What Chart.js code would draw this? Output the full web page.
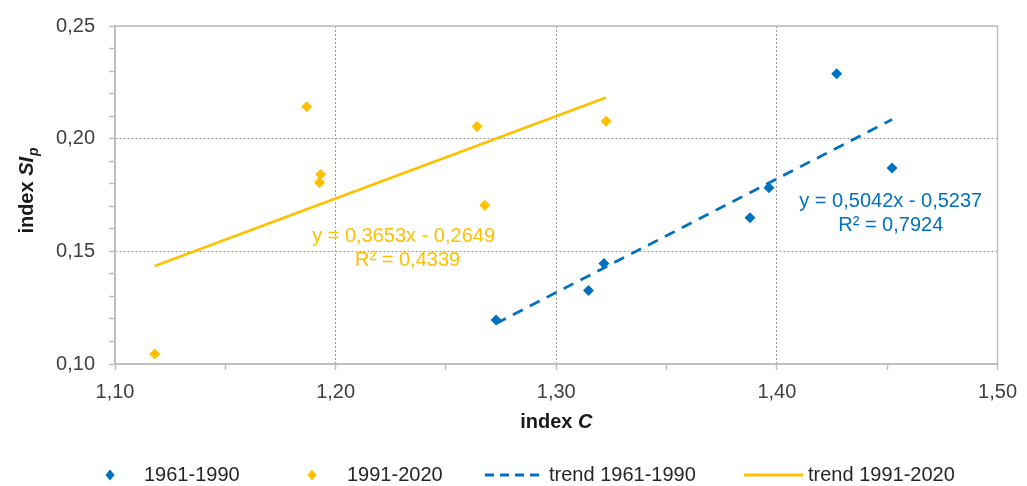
<!DOCTYPE html>
<html>
<head>
<meta charset="utf-8">
<script src="https://cdn.jsdelivr.net/npm/chart.js@4"></script>
<style>
  html, body { margin: 0; padding: 0; background: #fff; }
  #wrap { width: 1027px; height: 486px; }
</style>
</head>
<body>
<div id="wrap"><canvas id="myChart" width="1027" height="486"></canvas></div>
<script>
// values
const oldX = [1.2727, 1.3146, 1.3216, 1.3878, 1.3964, 1.4271, 1.4522];
const oldY = [0.1195, 0.1326, 0.1446, 0.1649, 0.1782, 0.2288, 0.1870];
const newX = [1.1180, 1.1869, 1.1927, 1.1932, 1.2641, 1.2676, 1.3226];
const newY = [0.1044, 0.2142, 0.1805, 0.1841, 0.2054, 0.1705, 0.2077];

// trend equations as printed on the chart
const oldTrend = [0.5042, -0.5237, 0.7924];
const newTrend = [0.3653, -0.2649, 0.4339];

const seriesNames = ['1961-1990', '1991-2020', 'trend 1961-1990', 'trend 1991-2020'];

const BLUE = '#0070C0';
const YELLOW = '#FFC000';
const FONT = '"Liberation Sans", Arial, sans-serif';
const SIZE = 20;

function pts(xs, ys) {
    return xs.map((x, i) => ({x: x, y: ys[i]}));
}
function trendPts(xs, t) {
    const lo = Math.min(...xs), hi = Math.max(...xs);
    return [{x: lo, y: t[0] * lo + t[1]}, {x: hi, y: t[0] * hi + t[1]}];
}
function comma(v, d) {
    return v.toFixed(d).replace('.', ',');
}

// axis titles, equations, legend and frame
const extras = {
    id: 'extras',
    afterDraw(chart) {
        const ctx = chart.ctx;
        const a = chart.chartArea;
        const xs = chart.scales.x, ys = chart.scales.y;
        ctx.save();

        // frame round the plot
        ctx.strokeStyle = '#BFBFBF';
        ctx.lineWidth = 1.5;
        ctx.strokeRect(a.left, a.top, a.right - a.left, a.bottom - a.top);

        // equations
        ctx.font = SIZE + 'px ' + FONT;
        ctx.textAlign = 'center';
        ctx.textBaseline = 'middle';
        ctx.fillStyle = YELLOW;
        let px = xs.getPixelForValue(1.2308), py = ys.getPixelForValue(0.1565);
        ctx.fillText('y = ' + comma(newTrend[0], 4) + 'x - ' + comma(-newTrend[1], 4), px, py);
        ctx.fillText('R² = ' + comma(newTrend[2], 4), px + 4, py + 24);
        ctx.fillStyle = BLUE;
        px = xs.getPixelForValue(1.4516); py = ys.getPixelForValue(0.1722);
        ctx.fillText('y = ' + comma(oldTrend[0], 4) + 'x - ' + comma(-oldTrend[1], 4), px, py);
        ctx.fillText('R² = ' + comma(oldTrend[2], 4), px, py + 24);

        // x title: index C
        ctx.fillStyle = '#1A1A1A';
        ctx.textAlign = 'left';
        ctx.textBaseline = 'alphabetic';
        const b = 'bold ' + SIZE + 'px ' + FONT, bi = 'italic bold ' + SIZE + 'px ' + FONT;
        ctx.font = b;
        const w1 = ctx.measureText('index ').width;
        ctx.font = bi;
        const w2 = ctx.measureText('C').width;
        let sx = (a.left + a.right) / 2 - (w1 + w2) / 2;
        ctx.font = b; ctx.fillText('index ', sx, 428);
        ctx.font = bi; ctx.fillText('C', sx + w1, 428);

        // y title: index SIp
        ctx.save();
        ctx.translate(33, (a.top + a.bottom) / 2 - 4);
        ctx.rotate(-Math.PI / 2);
        ctx.font = b;
        const v1 = ctx.measureText('index ').width;
        ctx.font = bi;
        const v2 = ctx.measureText('SI').width;
        ctx.font = 'italic bold 14px ' + FONT;
        const v3 = ctx.measureText('p').width;
        sx = -(v1 + v2 + v3) / 2;
        ctx.font = b; ctx.fillText('index ', sx, 0);
        ctx.font = bi; ctx.fillText('SI', sx + v1, 0);
        ctx.font = 'italic bold 14px ' + FONT; ctx.fillText('p', sx + v1 + v2 + 1, 5);
        ctx.restore();

        // legend
        const ly = 475;
        ctx.font = SIZE + 'px ' + FONT;
        ctx.textBaseline = 'middle';
        function diamond(x, c) {
            ctx.fillStyle = c;
            ctx.beginPath();
            ctx.moveTo(x, ly - 5.5); ctx.lineTo(x + 4.5, ly); ctx.lineTo(x, ly + 5.5); ctx.lineTo(x - 4.5, ly);
            ctx.closePath(); ctx.fill();
        }
        diamond(110, BLUE);
        diamond(312, YELLOW);
        ctx.lineWidth = 3;
        ctx.strokeStyle = BLUE;
        ctx.setLineDash([9, 6]);
        ctx.beginPath(); ctx.moveTo(485, ly); ctx.lineTo(544, ly); ctx.stroke();
        ctx.setLineDash([]);
        ctx.strokeStyle = YELLOW;
        ctx.beginPath(); ctx.moveTo(744, ly); ctx.lineTo(803, ly); ctx.stroke();
        ctx.fillStyle = '#262626';
        ctx.fillText(seriesNames[0], 144, ly);
        ctx.fillText(seriesNames[1], 347, ly);
        ctx.fillText(seriesNames[2], 549, ly);
        ctx.fillText(seriesNames[3], 808, ly);

        ctx.restore();
    }
};

const ctx = document.getElementById('myChart').getContext('2d');
const chart = new Chart(ctx, {
    type: 'scatter',
    data: {
        datasets: [{
            label: seriesNames[0],
            data: pts(oldX, oldY),
            backgroundColor: BLUE,
            borderColor: BLUE,
            pointStyle: 'rectRot',
            pointRadius: 5.5,
            borderWidth: 0,
            order: 1
        }, {
            label: seriesNames[1],
            data: pts(newX, newY),
            backgroundColor: YELLOW,
            borderColor: YELLOW,
            pointStyle: 'rectRot',
            pointRadius: 5.5,
            borderWidth: 0,
            order: 1
        }, {
            label: seriesNames[2],
            data: trendPts(oldX, oldTrend),
            showLine: true,
            borderColor: BLUE,
            borderWidth: 2.75,
            borderDash: [11, 8],
            pointRadius: 0,
            order: 2
        }, {
            label: seriesNames[3],
            data: trendPts(newX, newTrend),
            showLine: true,
            borderColor: YELLOW,
            borderWidth: 2.75,
            pointRadius: 0,
            order: 2
        }]
    },
    options: {
        responsive: false,
        animation: false,
        devicePixelRatio: 1,
        layout: { padding: { left: 0, right: 26, top: 25, bottom: 0 } },
        plugins: {
            legend: { display: false },
            tooltip: { enabled: false }
        },
        scales: {
            x: {
                type: 'linear',
                min: 1.10,
                max: 1.50,
                afterFit: s => { s.height = 122; },
                ticks: {
                    stepSize: 0.05,
                    autoSkip: false,
                    maxRotation: 0,
                    padding: 10,
                    color: '#404040',
                    font: { family: FONT, size: SIZE },
                    callback: v => Math.round(v * 100) % 10 === 0 ? comma(v, 2) : ''
                },
                grid: {
                    color: c => c.tick && Math.round(c.tick.value * 100) % 10 === 0 ? '#9A9A9A' : 'transparent',
                    lineWidth: 1,
                    tickColor: '#BFBFBF',
                    tickLength: 6,
                    tickWidth: 1.5
                },
                border: { display: true, color: '#BFBFBF', width: 1.5, dash: [2, 2] }
            },
            y: {
                type: 'linear',
                min: 0.10,
                max: 0.25,
                afterFit: s => { s.width = 115; },
                ticks: {
                    stepSize: 0.01,
                    autoSkip: false,
                    padding: 14,
                    color: '#404040',
                    font: { family: FONT, size: SIZE },
                    callback: v => Math.round(v * 100) % 5 === 0 ? comma(v, 2) : ''
                },
                grid: {
                    color: c => c.tick && Math.round(c.tick.value * 100) % 5 === 0 ? '#9A9A9A' : 'transparent',
                    lineWidth: 1,
                    tickColor: '#BFBFBF',
                    tickLength: 6,
                    tickWidth: 1.5
                },
                border: { display: true, color: '#BFBFBF', width: 1.5, dash: [2, 2] }
            }
        }
    },
    plugins: [extras]
});
</script>
</body>
</html>
